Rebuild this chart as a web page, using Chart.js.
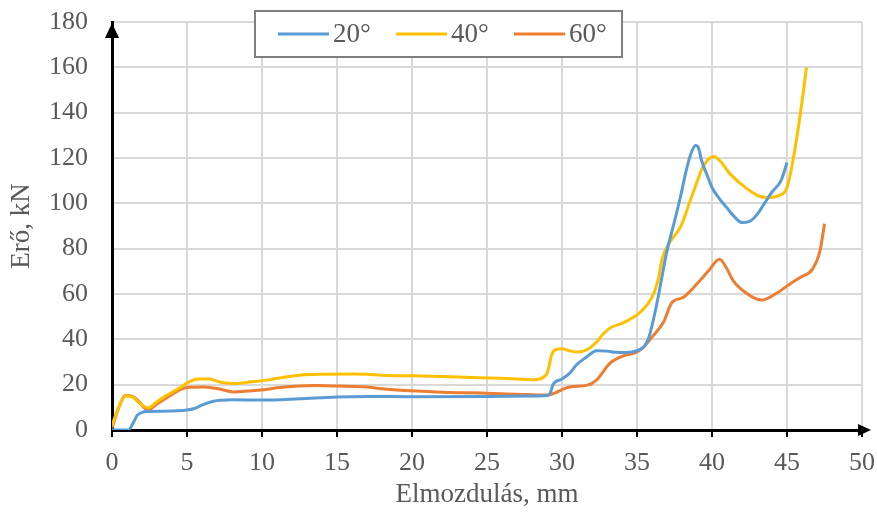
<!DOCTYPE html>
<html>
<head>
<meta charset="utf-8">
<script src="https://cdn.jsdelivr.net/npm/chart.js@4/dist/chart.umd.min.js"></script>
<style>
  html, body { margin: 0; padding: 0; background: #fff; }
  #wrap { width: 877px; height: 513px; position: relative; }
</style>
</head>
<body>
<div id="wrap"><canvas id="forceChart"></canvas></div>
<script>
// --- Data ---
const xTicks = [0, 5, 10, 15, 20, 25, 30, 35, 40, 45, 50];
const yTicks = [0, 20, 40, 60, 80, 100, 120, 140, 160, 180];
const seriesLabels = ['20°', '40°', '60°'];
const seriesColors = ['#5b9bd5', '#ffc000', '#ed7d31'];

const disp20 = [0, 1.1, 1.4, 1.7, 2.4, 3.5, 5.0, 5.5, 6.0, 6.7, 8.0, 10.0, 12.5, 15, 17, 20, 25, 28, 29.0, 29.2, 29.4, 30.0, 30.5, 31.0, 31.6, 32.3, 33.0, 33.6, 34.3, 35.0, 35.5, 35.8, 36.3, 37.0, 37.5, 37.9, 38.3, 38.6, 38.9, 39.1, 39.3, 39.7, 40.0, 40.5, 41.0, 41.5, 42.0, 42.5, 43.0, 43.5, 44.0, 44.6, 45.0];
const force20 = [0, 0, 3, 6.6, 8.2, 8.3, 8.8, 9.5, 11, 12.6, 13.3, 13.2, 13.8, 14.6, 14.8, 14.7, 14.8, 15, 15.2, 16, 20, 22.5, 25, 29, 32, 35, 34.8, 34.3, 34.2, 35, 37, 41, 55, 79, 92, 103, 115, 122, 125.5, 124.5, 119, 112, 107, 102, 98, 94, 91.5, 92, 95, 100, 105, 110, 118];

const disp40 = [0, 0.5, 0.9, 1.4, 1.8, 2.4, 3.0, 3.7, 4.5, 5.0, 5.7, 6.5, 7.3, 8.3, 9.0, 10.3, 11.5, 12.5, 14, 16, 17, 18, 20, 22, 24, 25.9, 27, 28.1, 28.9, 29.1, 29.3, 29.6, 30, 30.5, 31, 31.7, 32.3, 32.7, 33.2, 34, 34.7, 35.3, 36, 36.4, 36.7, 37.2, 37.9, 38.7, 39.4, 40.1, 40.5, 41.2, 42.3, 43.2, 43.7, 44.5, 45.0, 45.4, 45.9, 46.3];
const force40 = [2, 11, 15, 14.5, 12, 9.8, 12.5, 15.5, 18.5, 20.7, 22.5, 22.5, 21, 20.5, 21, 22, 23.3, 24.2, 24.6, 24.7, 24.6, 24.2, 23.9, 23.6, 23.2, 22.8, 22.5, 22.2, 24, 27, 33, 35.5, 35.8, 35, 34.4, 35.5, 38.8, 42, 45, 47, 49.5, 52.5, 58.5, 66, 76, 83, 89.6, 104, 116, 120.7, 119, 113, 106.6, 103, 102.6, 103.5, 107, 119, 140, 160];

const disp60 = [0, 0.4, 0.9, 1.4, 1.8, 2.4, 3.0, 3.7, 4.4, 5.0, 6.1, 7.0, 8.1, 9.9, 11, 12.5, 13.5, 15, 17, 18, 20, 22, 25, 27, 29, 30.5, 31.7, 32.3, 33.2, 34, 35, 35.5, 36, 36.8, 37.3, 38.1, 39.2, 39.8, 40.5, 41.0, 41.4, 42.3, 43.3, 44.3, 45.1, 45.9, 46.7, 47.2, 47.5];
const force60 = [1, 9, 15.2, 14.7, 12.5, 8.8, 11.5, 14.5, 17.3, 18.8, 19, 18.3, 16.8, 17.6, 18.6, 19.4, 19.6, 19.4, 19, 18.2, 17.3, 16.7, 16.2, 15.8, 15.4, 19, 19.8, 22, 29.5, 32.5, 34.4, 37, 41, 48, 56, 58.6, 66, 70.5, 75.3, 71, 66, 60.3, 57.3, 60.3, 64, 67.4, 71, 79, 91];

const toPoints = (xs, ys) => xs.map((x, i) => ({ x: x, y: ys[i] }));
const seriesData = [toPoints(disp20, force20), toPoints(disp40, force40), toPoints(disp60, force60)];

const FONT = "'Liberation Serif', 'Times New Roman', serif";
const TEXT = '#595959';

// --- Arrow heads on both axes ---
const axisArrows = {
    id: 'axisArrows',
    afterDraw(chart) {
        const { ctx, chartArea: a } = chart;
        ctx.save();
        ctx.fillStyle = '#000';
        ctx.strokeStyle = '#000';
        ctx.lineWidth = 3;
        // extend x axis past the last tick
        ctx.beginPath();
        ctx.moveTo(a.right - 2, a.bottom);
        ctx.lineTo(a.right + 4, a.bottom);
        ctx.stroke();
        ctx.beginPath();
        ctx.moveTo(a.right + 9, a.bottom);
        ctx.lineTo(a.right - 4, a.bottom - 6);
        ctx.lineTo(a.right - 4, a.bottom + 6);
        ctx.closePath();
        ctx.fill();
        // y arrow
        ctx.beginPath();
        ctx.moveTo(a.left, a.top + 1);
        ctx.lineTo(a.left - 7, a.top + 16);
        ctx.lineTo(a.left + 7, a.top + 16);
        ctx.closePath();
        ctx.fill();
        ctx.restore();
    }
};

// --- Boxed legend sitting over the plot ---
const boxLegend = {
    id: 'boxLegend',
    afterDraw(chart) {
        const { ctx } = chart;
        const box = { x: 255, y: 11, w: 367, h: 46 };
        ctx.save();
        ctx.fillStyle = '#fff';
        ctx.fillRect(box.x, box.y, box.w, box.h);
        ctx.strokeStyle = '#7f7f7f';
        ctx.lineWidth = 2;
        ctx.strokeRect(box.x, box.y, box.w, box.h);
        ctx.font = '27px ' + FONT;
        ctx.textBaseline = 'middle';
        ctx.fillStyle = TEXT;
        const midY = box.y + box.h / 2;
        let x = box.x + 23;
        chart.data.datasets.forEach(ds => {
            ctx.strokeStyle = ds.borderColor;
            ctx.lineWidth = 3;
            ctx.beginPath();
            ctx.moveTo(x, midY);
            ctx.lineTo(x + 51, midY);
            ctx.stroke();
            ctx.fillText(ds.label, x + 55, midY + 1);
            x += 118;
        });
        ctx.restore();
    }
};

new Chart(document.getElementById('forceChart'), {
    type: 'line',
    data: {
        datasets: seriesLabels.map((label, i) => ({
            label: label,
            data: seriesData[i],
            borderColor: seriesColors[i],
            backgroundColor: seriesColors[i],
            borderWidth: 3,
            pointRadius: 0,
            cubicInterpolationMode: 'monotone',
            fill: false
        }))
    },
    options: {
        responsive: true,
        maintainAspectRatio: false,
        animation: false,
        devicePixelRatio: 1,
        layout: { padding: { top: 22, right: 15, left: 0, bottom: 0 } },
        plugins: {
            legend: { display: false },
            tooltip: { enabled: false }
        },
        scales: {
            x: {
                type: 'linear',
                min: 0,
                max: 50,
                afterBuildTicks: scale => { scale.ticks = xTicks.map(v => ({ value: v })); },
                afterFit: scale => {
                    scale.height = 83;
                    scale.paddingLeft = 0;
                    scale.paddingRight = 0;
                },
                grid: { color: '#d9d9d9', lineWidth: 2, tickColor: '#000', tickWidth: 2, tickLength: 7 },
                border: { color: '#000', width: 3 },
                ticks: { color: TEXT, font: { family: FONT, size: 26 }, padding: 11, maxRotation: 0 },
                title: { display: true, text: 'Elmozdulás, mm', color: TEXT, font: { family: FONT, size: 27 }, padding: { top: 0, bottom: 2 } }
            },
            y: {
                min: 0,
                max: 180,
                afterBuildTicks: scale => { scale.ticks = yTicks.map(v => ({ value: v })); },
                afterFit: scale => {
                    scale.width = 112;
                    scale.paddingTop = 0;
                    scale.paddingBottom = 0;
                },
                grid: { color: '#d9d9d9', lineWidth: 2, drawTicks: false },
                border: { color: '#000', width: 3 },
                ticks: { color: TEXT, font: { family: FONT, size: 26 }, padding: 24 },
                title: { display: true, text: 'Erő, kN', color: TEXT, font: { family: FONT, size: 27 }, padding: { top: 6, bottom: 0 } }
            }
        }
    },
    plugins: [axisArrows, boxLegend]
});
</script>
</body>
</html>
